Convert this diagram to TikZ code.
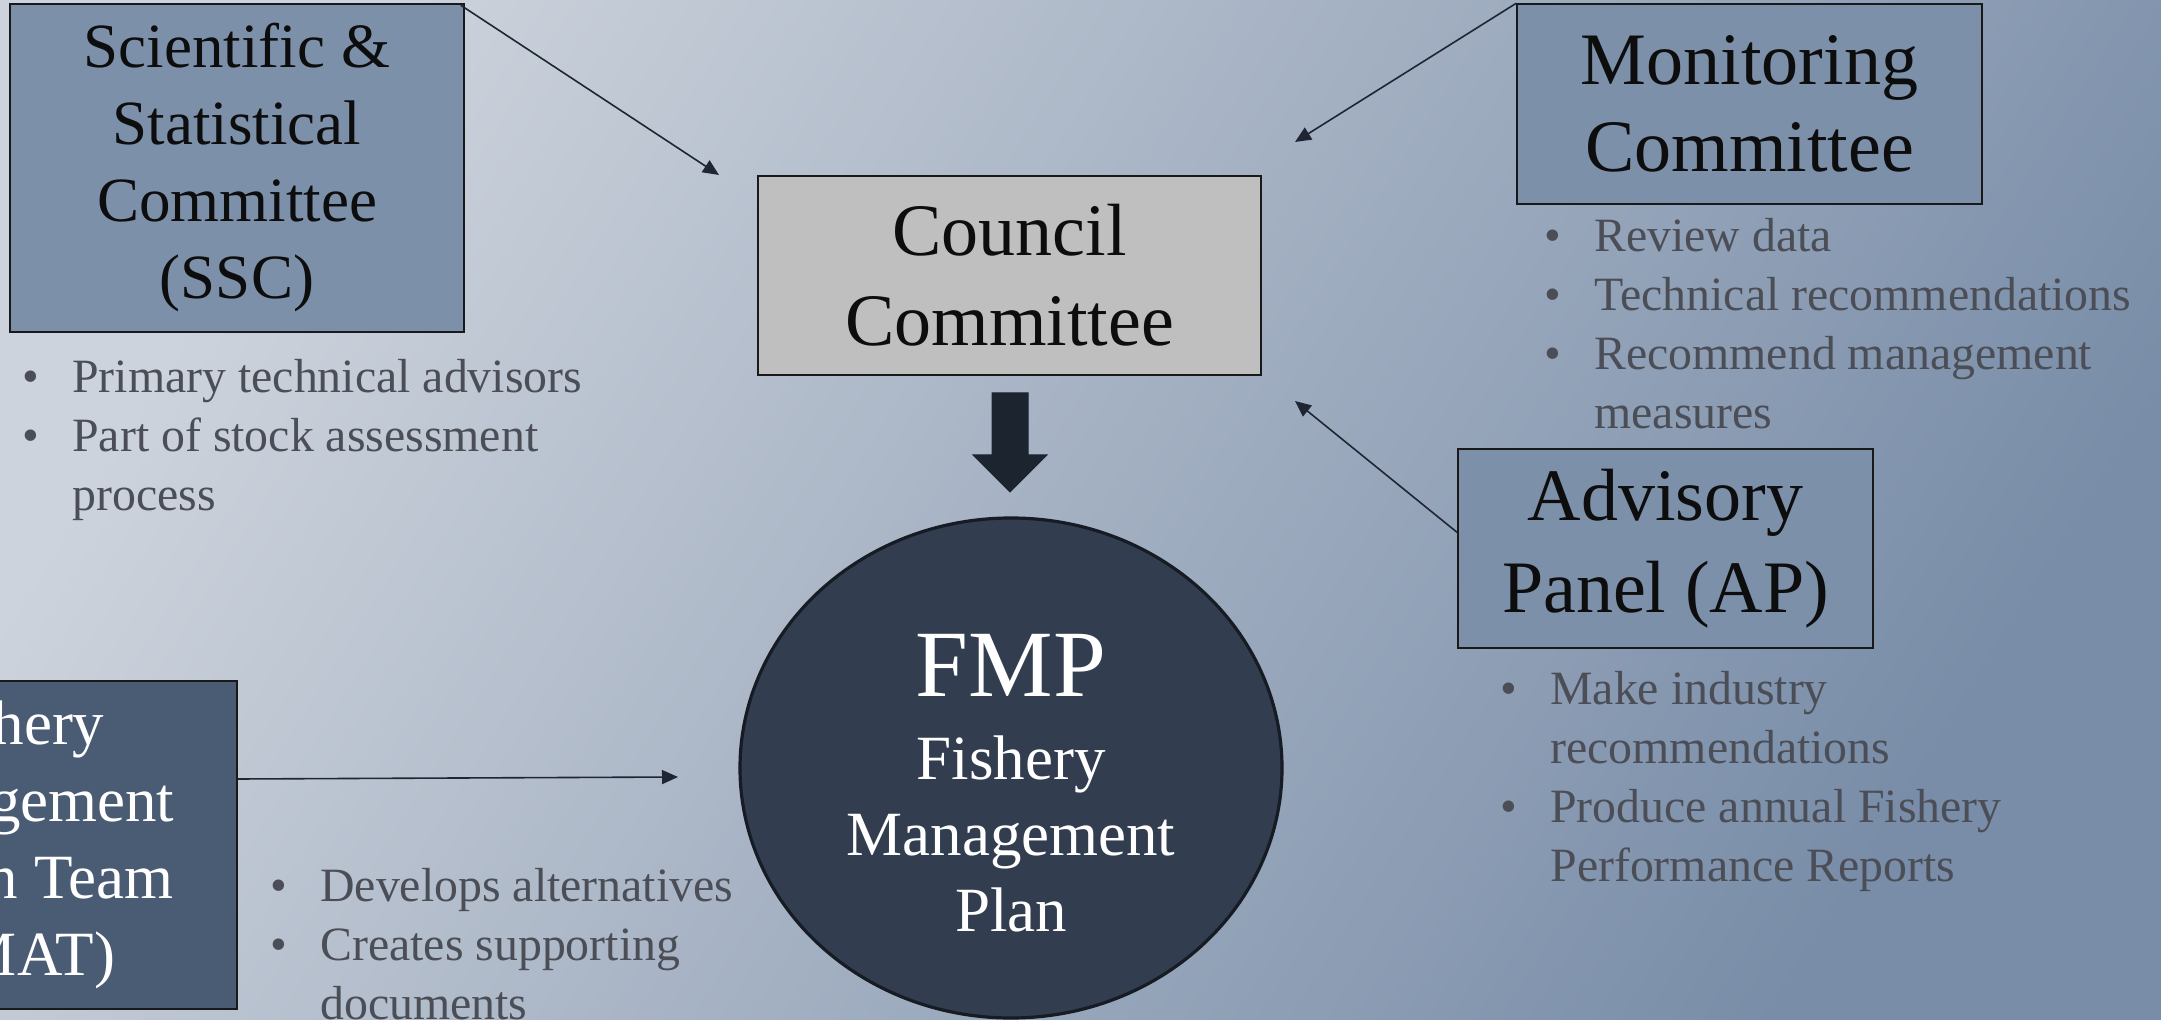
\documentclass[tikz,border=0pt]{standalone}
\usepackage{fontspec}
\setmainfont{Liberation Serif}
\usetikzlibrary{shapes.geometric,arrows.meta}
\definecolor{boxblue}{HTML}{7C90AA}
\definecolor{boxdark}{HTML}{4A5B74}
\definecolor{councilgray}{HTML}{BFBFBF}
\definecolor{fmpfill}{HTML}{323D50}
\definecolor{fmpline}{HTML}{161B24}
\definecolor{inkline}{HTML}{1E2633}
\definecolor{notegray}{HTML}{4B4E56}
\definecolor{bgtop}{HTML}{CDD3DC}
\definecolor{bgmid}{HTML}{B0BAC8}
\definecolor{bgbot}{HTML}{798DA8}
\newcommand{\itm}{\makebox[25pt][l]{\textbullet}}
\newcommand{\cnt}{\hspace*{25pt}}

\begin{document}
\begin{tikzpicture}[x=0.5pt,y=-0.5pt,
box/.style={draw=black!90, line width=0.75pt, fill=boxblue, align=center, inner sep=0pt, text=black!95},
note/.style={anchor=base west, align=left, inner sep=0pt, text=notegray, font=\fontsize{23.9}{29.5}\selectfont},
link/.style={draw=inkline, line width=0.8pt, -{Triangle[length=8pt,width=7pt]}}]
\useasboundingbox (0,0) rectangle (2161,1020);
\clip (0,0) rectangle (2161,1020);
\shade[left color=bgtop, middle color=bgmid, right color=bgbot, shading angle=58] (0,0) rectangle (2161,1020);

\node[box, minimum width=227pt, minimum height=164pt, font=\fontsize{31.5}{38.5}\selectfont] (ssc) at (237,168)
  {Scientific \&\\ Statistical\\ Committee\\ (SSC)};
\node[box, fill=councilgray, minimum width=251.5pt, minimum height=99.5pt, font=\fontsize{37}{45}\selectfont] (council) at (1009.5,275.5)
  {Council\\ Committee};
\node[box, minimum width=232.5pt, minimum height=100pt, font=\fontsize{37}{43.5}\selectfont] (mc) at (1749.5,104)
  {Monitoring\\ Committee};
\node[box, minimum width=207.5pt, minimum height=99.5pt, font=\fontsize{37}{46}\selectfont] (ap) at (1665.5,548.5)
  {Advisory\\ Panel (AP)};
\node[box, fill=boxdark, text=white, minimum width=227pt, minimum height=164pt, font=\fontsize{31.5}{38.5}\selectfont] (fmat) at (10,845)
  {Fishery\\ Management\\ Action Team\\ (FMAT)};

\node[ellipse, draw=fmpline, line width=1.6pt, fill=fmpfill, minimum width=271pt, minimum height=250pt, inner sep=0pt] (fmp) at (1011,768) {};
\node[align=center, text=white, inner sep=0pt, font=\fontsize{31.5}{38}\selectfont] (fmptext) at (1011,783)
  {{\fontsize{47.5}{50}\selectfont FMP}\\[3.5pt] Fishery\\ Management\\ Plan};

\fill[fill=inkline!95!black, draw=inkline, line width=0.5pt] (992,393) -- (1028,393) -- (1028,455) -- (1047,455) -- (1010,492) -- (973,455) -- (992,455) -- cycle;

\coordinate (sscend) at (719,175);
\coordinate (mcend) at (1295,142);
\coordinate (apend) at (1295,401);
\coordinate (fmatend) at (678,777);
\draw[link] ([xshift=-2pt,yshift=-1pt]ssc.north east) -- (sscend);
\draw[link] (mc.north west) -- (mcend);
\draw[link] ([yshift=8pt]ap.west) -- (apend);
\draw[link] ([yshift=33pt]fmat.east) -- (fmatend);

\node[note] (sscnote) at (22,511) {\itm Primary technical advisors\\ \itm Part of stock assessment\\ \cnt process};
\node[note] (mcnote) at (1544,429) {\itm Review data\\ \itm Technical recommendations\\ \itm Recommend management\\ \cnt measures};
\node[note] (apnote) at (1500,881) {\itm Make industry\\ \cnt recommendations\\ \itm Produce annual Fishery\\ \cnt Performance Reports};
\node[note] (fmatnote) at (270,1019) {\itm Develops alternatives\\ \itm Creates supporting\\ \cnt documents};
\end{tikzpicture}
\end{document}
